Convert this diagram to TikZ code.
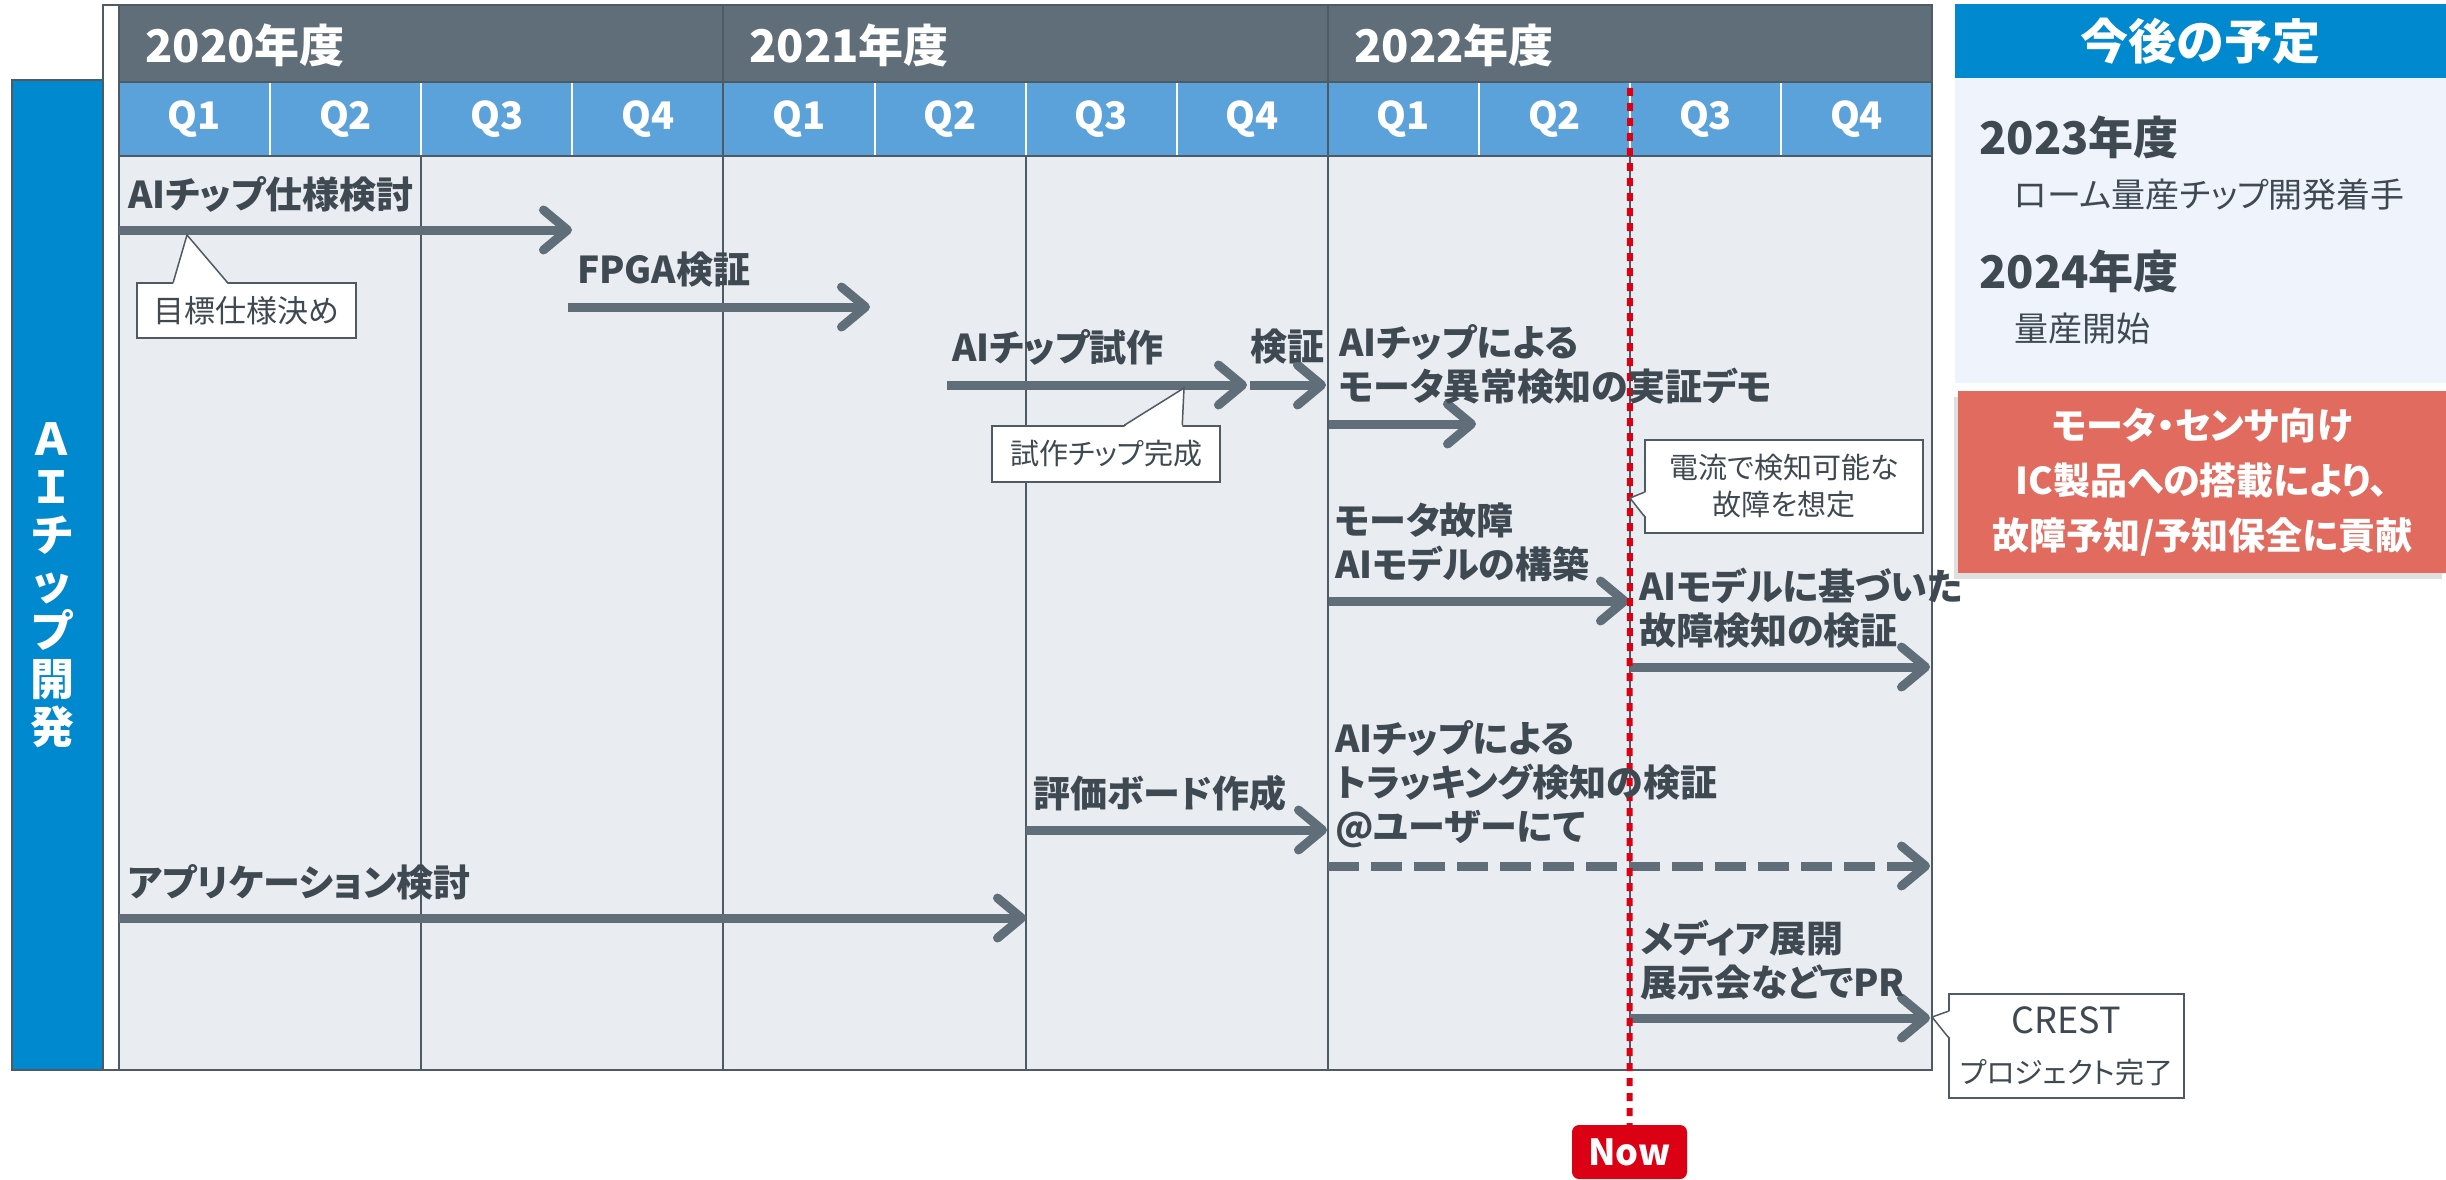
\documentclass[tikz,border=0pt]{standalone}
\usepackage{fontspec}
\setmainfont{Noto Sans CJK JP}[RawFeature=+palt]
\usetikzlibrary{arrows.meta,calc,shadows}

\definecolor{slate}{HTML}{5F6E78}
\definecolor{framegray}{HTML}{4E5A64}
\definecolor{qblue}{HTML}{5BA2DA}
\definecolor{bodygray}{HTML}{E9EDF1}
\definecolor{textgray}{HTML}{3E4952}
\definecolor{barblue}{HTML}{0089CF}
\definecolor{nowred}{HTML}{DC0014}
\definecolor{planbg}{HTML}{EFF3FB}
\definecolor{goalred}{HTML}{E06B5E}

\newcommand{\fsz}[2]{\fontsize{#1}{#2}\selectfont}

\begin{document}
\begin{tikzpicture}[
    x=1pt, y=-1pt,
    task/.style={anchor=west, inner sep=0pt, align=left, text=textgray, font=\bfseries\fsz{37}{44}},
    yearlbl/.style={anchor=west, inner sep=0pt, text=white, font=\bfseries\fsz{45}{50}},
    qlbl/.style={inner sep=0pt, text=white, font=\bfseries\fsz{38}{40}},
    note/.style={rectangle, draw=framegray, line width=1.5pt, fill=white, align=center, text=textgray, inner sep=0pt},
    noteline/.style={framegray, line width=1.5pt},
    arrow/.style={-{Straight Barb[length=24pt,width=40pt,round]}, line width=9pt, slate},
    dasharrow/.style={arrow, dash pattern=on 31pt off 12pt},
    gridline/.style={framegray, line width=2pt},
    qsep/.style={white, line width=2pt},
    nowline/.style={nowred, line width=6pt, dash pattern=on 8pt off 7pt},
    planhead/.style={inner sep=0pt, anchor=west, text=textgray, font=\bfseries\fsz{45}{50}},
    plantext/.style={inner sep=0pt, anchor=west, text=textgray, font=\fsz{34}{36}}
]
\useasboundingbox (0,0) rectangle (2446,1180);

\draw[framegray, line width=2pt, fill=barblue] (12,80) rectangle (103,1070);
\node[inner sep=0pt, align=center, text=white, font=\bfseries\fsz{44}{48}] (barlbl) at (52,585) {Ａ\\Ｉ\\チ\\ッ\\プ\\開\\発};

\draw[framegray, line width=2.5pt, fill=white] (103,5) rectangle (1932,1070);
\fill[slate] (119,5) rectangle (1932,82);
\fill[qblue] (119,82) rectangle (1932,156);
\fill[bodygray] (119,156) rectangle (1932,1070);
\draw[qsep] (270,82) -- (270,156) (421,82) -- (421,156) (572,82) -- (572,156)
    (875,82) -- (875,156) (1026,82) -- (1026,156) (1177,82) -- (1177,156)
    (1479,82) -- (1479,156) (1630,82) -- (1630,156) (1781,82) -- (1781,156);
\draw[gridline] (119,5) -- (119,1070) (421,156) -- (421,1070) (723,5) -- (723,1070)
    (1026,156) -- (1026,1070) (1328,5) -- (1328,1070) (1630,156) -- (1630,1070)
    (119,82) -- (1932,82) (119,156) -- (1932,156);
\draw[framegray, line width=2.5pt] (103,5) rectangle (1932,1070);

\node[yearlbl] (fy20) at (145,45) {2020年度};
\node[yearlbl] (fy21) at (749,45) {2021年度};
\node[yearlbl] (fy22) at (1354,45) {2022年度};

\node[qlbl] (fy20q1) at (194.5,119) {Q1};
\node[qlbl] (fy20q2) at (345.6,119) {Q2};
\node[qlbl] (fy20q3) at (496.7,119) {Q3};
\node[qlbl] (fy20q4) at (647.8,119) {Q4};
\node[qlbl] (fy21q1) at (799,119) {Q1};
\node[qlbl] (fy21q2) at (950,119) {Q2};
\node[qlbl] (fy21q3) at (1101,119) {Q3};
\node[qlbl] (fy21q4) at (1252,119) {Q4};
\node[qlbl] (fy22q1) at (1403,119) {Q1};
\node[qlbl] (fy22q2) at (1554.5,119) {Q2};
\node[qlbl] (fy22q3) at (1705.5,119) {Q3};
\node[qlbl] (fy22q4) at (1856.6,119) {Q4};

\coordinate (specS) at (119,230);   \coordinate (specE) at (572,230);
\coordinate (fpgaS) at (568,307);   \coordinate (fpgaE) at (870,307);
\coordinate (protoS) at (947,385);  \coordinate (protoE) at (1247,385);
\coordinate (checkS) at (1250,385); \coordinate (checkE) at (1326,385);
\coordinate (demoS) at (1329,424);  \coordinate (demoE) at (1476,424);
\coordinate (modelS) at (1329,601); \coordinate (modelE) at (1629,601);
\coordinate (faultS) at (1630,667); \coordinate (faultE) at (1930,667);
\coordinate (trackS) at (1328,866); \coordinate (trackE) at (1930,866);
\coordinate (boardS) at (1026,830); \coordinate (boardE) at (1327,830);
\coordinate (appS) at (119,918);    \coordinate (appE) at (1026,918);
\coordinate (mediaS) at (1630,1018); \coordinate (mediaE) at (1930,1018);

\draw[arrow] (specS) -- (specE);
\draw[arrow] (fpgaS) -- (fpgaE);
\draw[arrow] (protoS) -- (protoE);
\draw[arrow] (checkS) -- (checkE);
\draw[arrow] (demoS) -- (demoE);
\draw[arrow] (modelS) -- (modelE);
\draw[arrow] (faultS) -- (faultE);
\draw[dasharrow] (trackS) -- (trackE);
\draw[arrow] (boardS) -- (boardE);
\draw[arrow] (appS) -- (appE);
\draw[arrow] (mediaS) -- (mediaE);

\node[fill=nowred, rounded corners=7pt, minimum width=115pt, minimum height=54pt, inner sep=0pt, text=white, font=\bfseries\fsz{36}{40}] (now) at (1629.5,1152) {Now};
\coordinate (nowtop) at (1630,88);
\draw[nowline] (nowtop) -- (now.north);

\node[task] (spec) at (128,194) {AIチップ仕様検討};
\node[task] (fpga) at (577,270) {FPGA検証};
\node[task] (proto) at (952,347) {AIチップ試作};
\node[task] (check) at (1250,347) {検証};
\node[task] (demo) at (1339,364) {AIチップによる\\モータ異常検知の実証デモ};
\node[task] (model) at (1335,542) {モータ故障\\AIモデルの構築};
\node[task] (fault) at (1639,608) {AIモデルに基づいた\\故障検知の検証};
\node[task] (track) at (1335,784) {AIチップによる\\トラッキング検知の検証\\@ユーザーにて};
\node[task] (board) at (1033,793) {評価ボード作成};
\node[task] (app) at (128,882) {アプリケーション検討};
\node[task] (media) at (1640,960) {メディア展開\\展示会などでPR};

\node[note, minimum width=219pt, minimum height=55pt, font=\fsz{31}{37}] (goalspec) at (246.5,310.5) {目標仕様決め};
\coordinate (goalspecTip) at (187,235);
\fill[white] ($(goalspec.north west)+(37,1.5)$) -- (goalspecTip) -- ($(goalspec.north west)+(91,1.5)$) -- cycle;
\draw[noteline] ($(goalspec.north west)+(37,0)$) -- (goalspecTip) -- ($(goalspec.north west)+(91,0)$);

\node[note, minimum width=228pt, minimum height=56pt, font=\fsz{29}{37}] (protodone) at (1106,454) {試作チップ完成};
\coordinate (protodoneTip) at (1184,388);
\fill[white] ($(protodone.north west)+(133,1.5)$) -- (protodoneTip) -- ($(protodone.north west)+(191,1.5)$) -- cycle;
\draw[noteline] ($(protodone.north west)+(133,0)$) -- (protodoneTip) -- ($(protodone.north west)+(191,0)$);

\node[note, minimum width=278pt, minimum height=93pt, font=\fsz{29}{37}] (current) at (1784,486.5) {電流で検知可能な\\故障を想定};
\coordinate (currentTip) at (1630,498);
\fill[white] ($(current.north west)+(1.5,53)$) -- (currentTip) -- ($(current.north west)+(1.5,77)$) -- cycle;
\draw[noteline] ($(current.north west)+(0,53)$) -- (currentTip) -- ($(current.north west)+(0,77)$);

\node[note, minimum width=235pt, minimum height=104pt, font=\fsz{29}{50}] (crest) at (2066.5,1046) {{\fsz{36}{50}CREST}\\プロジェクト完了};
\coordinate (crestTip) at (1932,1017);
\fill[white] ($(crest.north west)+(1.5,18)$) -- (crestTip) -- ($(crest.north west)+(1.5,44)$) -- cycle;
\draw[noteline] ($(crest.north west)+(0,18)$) -- (crestTip) -- ($(crest.north west)+(0,44)$);

\node[fill=barblue, minimum width=491pt, minimum height=74pt, inner sep=0pt, text=white, font=\bfseries\fsz{48}{50}] (plantitle) at (2200.5,41.5) {今後の予定};
\fill[planbg] (1955,78.5) rectangle (2446,383);
\node[planhead] (fy23) at (1979,137) {2023年度};
\node[plantext] (fy23txt) at (2014,195) {ローム量産チップ開発着手};
\node[planhead] (fy24) at (1979,271) {2024年度};
\node[plantext] (fy24txt) at (2014,329) {量産開始};

\node[fill=goalred, minimum width=488pt, minimum height=182pt, inner sep=0pt, align=center, text=white,
      font=\bfseries\fsz{37}{55}, drop shadow={shadow xshift=-4pt, shadow yshift=-6pt, opacity=0.25}] (goal) at (2202,482)
      {モータ・センサ向け\\IC製品への搭載により、\\故障予知/予知保全に貢献};
\end{tikzpicture}
\end{document}
